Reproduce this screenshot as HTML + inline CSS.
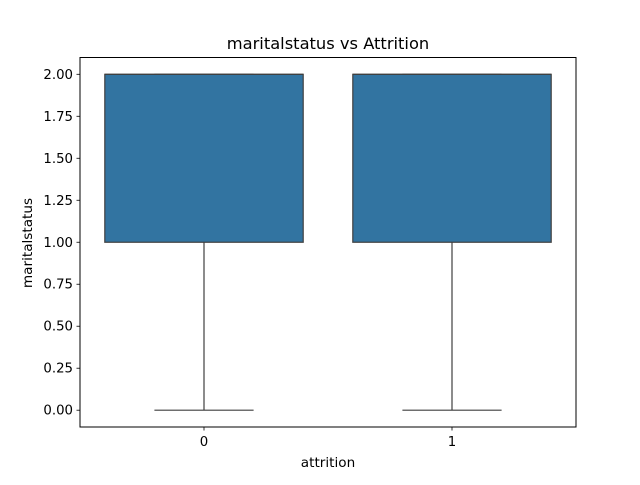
<!DOCTYPE html>
<html><head><meta charset="utf-8"><style>
body{margin:0;background:#fff;}
svg text{font-family:"DejaVu Sans","Liberation Sans",sans-serif;fill:#000;}
</style></head><body>
<svg id="chart" width="640" height="480" xmlns="http://www.w3.org/2000/svg">
<rect width="640" height="480" fill="#fff"/>
<text x="328" y="49" font-size="16.3" text-anchor="middle">maritalstatus vs Attrition</text>
<g id="plot"></g>
<rect x="80" y="57.5" width="496" height="369.5" fill="none" stroke="#000" stroke-width="1"/>
<text x="328" y="467" font-size="13.6" text-anchor="middle">attrition</text>
<text x="32" y="243" font-size="13.6" text-anchor="middle" transform="rotate(-90 32 243)">maritalstatus</text>
</svg>
<script>
const categories = ["0","1"];
const q1 = [1,1];
const median = [2,2];
const q3 = [2,2];
const whiskerLow = [0,0];
const whiskerHigh = [2,2];
const yTicks = [0,0.25,0.5,0.75,1,1.25,1.5,1.75,2];
const yTickLabels = ["0.00","0.25","0.50","0.75","1.00","1.25","1.50","1.75","2.00"];

const L=80,R=576,T=57.5,B=427;
const ymin=-0.1,ymax=2.1;
const ys=v=>B-(v-ymin)/(ymax-ymin)*(B-T);
const xs=i=>L+(i+0.5)/categories.length*(R-L);
const unit=(R-L)/categories.length;
const NS="http://www.w3.org/2000/svg";
const g=document.getElementById('plot');
function el(tag,attrs){const e=document.createElementNS(NS,tag);for(const k in attrs)e.setAttribute(k,attrs[k]);g.appendChild(e);return e;}
const line="#3f3f3f";
yTicks.forEach((v,i)=>{
  const t=el('line',{x1:L-3.5,x2:L,y1:ys(v),y2:ys(v),stroke:'#000','stroke-width':0.8});
  
  
  const tx=el('text',{x:L-7,y:ys(v)+4.5,'font-size':13.3,'text-anchor':'end'});
  tx.textContent=yTickLabels[i];
  
  
});
categories.forEach((c,i)=>{
  const cx=xs(i), bw=unit*0.8, cw=unit*0.4;
  const t=el('line',{x1:cx,x2:cx,y1:B,y2:B+3.5,stroke:'#000','stroke-width':0.8});
  
  
  const tx=el('text',{x:cx,y:B+19,'font-size':13.3,'text-anchor':'middle'});
  tx.textContent=c;
  
  
  const w1=el('line',{x1:cx,x2:cx,y1:ys(q1[i]),y2:ys(whiskerLow[i]),stroke:line,'stroke-width':1.2});
  
  
  const w2=el('line',{x1:cx,x2:cx,y1:ys(q3[i]),y2:ys(whiskerHigh[i]),stroke:line,'stroke-width':1.2});
  
  
  const c1=el('line',{x1:cx-cw/2,x2:cx+cw/2,y1:ys(whiskerLow[i]),y2:ys(whiskerLow[i]),stroke:line,'stroke-width':1.2});
  
  
  const c2=el('line',{x1:cx-cw/2,x2:cx+cw/2,y1:ys(whiskerHigh[i]),y2:ys(whiskerHigh[i]),stroke:line,'stroke-width':1.2});
  
  
  const b=el('rect',{x:cx-bw/2,y:ys(q3[i]),width:bw,height:ys(q1[i])-ys(q3[i]),fill:'#3274a1',stroke:line,'stroke-width':1.2});
  
  
  const m=el('line',{x1:cx-bw/2,x2:cx+bw/2,y1:ys(median[i]),y2:ys(median[i]),stroke:line,'stroke-width':1.2});
  
  
});
</script>
</body></html>
